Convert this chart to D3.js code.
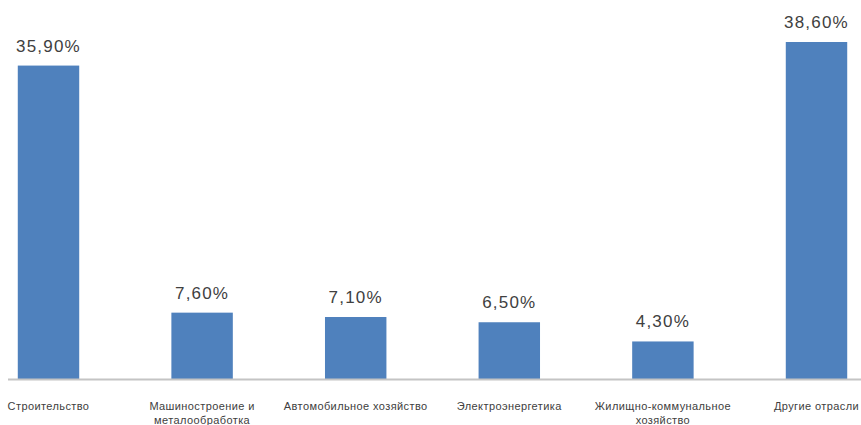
<!DOCTYPE html>
<html>
<head>
<meta charset="utf-8">
<script src="https://cdn.jsdelivr.net/npm/d3@7"></script>
<style>
  body { margin: 0; background: #fff; }
  svg { display: block; }
</style>
</head>
<body>
<svg id="chart" width="861" height="425"></svg>
<script>
const categories = [
    ["Строительство"],
    ["Машиностроение и", "металообработка"],
    ["Автомобильное хозяйство"],
    ["Электроэнергетика"],
    ["Жилищно-коммунальное", "хозяйство"],
    ["Другие отрасли"]
];
const values = [35.9, 7.6, 7.1, 6.5, 4.3, 38.6];
const valueLabels = ["35,90%", "7,60%", "7,10%", "6,50%", "4,30%", "38,60%"];

const data = categories.map((c, i) => ({ key: i, lines: c, value: values[i], label: valueLabels[i] }));

const svg = d3.select('#chart');
const baseline = 379;

// band range runs past the picture edges, the chart was cropped
const x = d3.scaleBand()
    .domain(data.map(d => d.key))
    .range([-28.3, 893.3])
    .paddingInner(0.6)
    .paddingOuter(0.3);

const y = d3.scaleLinear()
    .domain([0, 38.6])
    .range([baseline, 42]);

svg.append("g")
    .selectAll("rect")
    .data(data)
    .join("rect")
    .attr("x", d => x(d.key))
    .attr("y", d => y(d.value))
    .attr("width", x.bandwidth())
    .attr("height", d => baseline - y(d.value))
    .attr("fill", "#4f81bd");

svg.append("line")
    .attr("x1", 8).attr("x2", 861)
    .attr("y1", baseline + 0.5).attr("y2", baseline + 0.5)
    .attr("stroke", "#c4c4c4")
    .attr("stroke-width", 2);

svg.append("g")
    .selectAll("text")
    .data(data)
    .join("text")
    .attr("x", d => x(d.key) + x.bandwidth() / 2)
    .attr("y", d => y(d.value) - 14)
    .attr("text-anchor", "middle")
    .attr("font-family", "Liberation Sans, Arial, sans-serif")
    .attr("font-size", 17)
    .attr("letter-spacing", 1.2)
    .attr("fill", "#404040")
    .text(d => d.label);

const cat = svg.append("g")
    .selectAll("text")
    .data(data)
    .join("text")
    .attr("x", d => x(d.key) + x.bandwidth() / 2)
    .attr("y", 410)
    .attr("text-anchor", "middle")
    .attr("font-family", "Liberation Sans, Arial, sans-serif")
    .attr("font-size", 11)
    .attr("letter-spacing", 0.4)
    .attr("fill", "#404040");

cat.selectAll("tspan")
    .data(d => d.lines.map(l => ({ l, cx: x(d.key) + x.bandwidth() / 2 })))
    .join("tspan")
    .attr("x", t => t.cx)
    .attr("dy", (t, i) => i === 0 ? 0 : 14)
    .text(t => t.l);
</script>
</body>
</html>
